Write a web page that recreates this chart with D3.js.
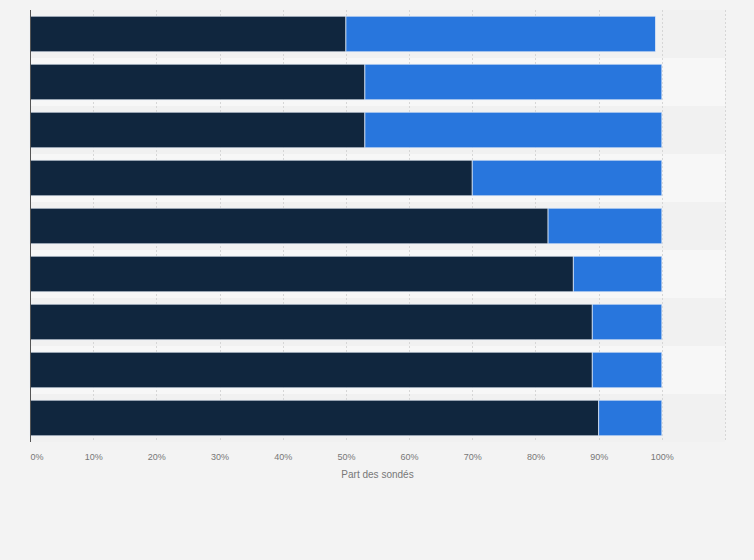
<!DOCTYPE html>
<html><head><meta charset="utf-8">
<script src="https://cdn.jsdelivr.net/npm/d3@7"></script>
<style>body{margin:0;background:#f3f3f3;}svg{display:block;}</style>
</head><body>
<script>
const categories = ["1","2","3","4","5","6","7","8","9"];
const seriesA = [50,53,53,70,82,86,89,89,90];
const seriesB = [49,47,47,30,18,14,11,11,10];
const tickValues = [0,10,20,30,40,50,60,70,80,90,100];
const tickLabels = ["0%","10%","20%","30%","40%","50%","60%","70%","80%","90%","100%"];
const axisTitle = "Part des sondés";

const W = 754, H = 560;
const svg = d3.select("body").append("svg").attr("width", W).attr("height", H);
svg.append("rect").attr("width", W).attr("height", H).attr("fill", "#f3f3f3");

const x = d3.scaleLinear().domain([0,110]).range([30,725]);
const y = d3.scaleBand().domain(categories).range([10,442]).paddingInner(0.26).paddingOuter(0.13);

// row bands
const stepY = y.step();
svg.append("g").selectAll("rect").data(categories).join("rect")
  .attr("x", x(0)).attr("width", x(110)-x(0))
  .attr("y", (d,i)=>10 + i*stepY).attr("height", stepY)
  .attr("fill", (d,i)=> i%2 ? "#f7f7f7" : "#f1f1f1");

// gridlines
svg.append("g").selectAll("line").data(d3.range(10,111,10)).join("line")
  .attr("x1", d=>Math.round(x(d))+0.5).attr("x2", d=>Math.round(x(d))+0.5)
  .attr("y1", 10).attr("y2", 442)
  .attr("stroke", "#d6d6d6").attr("stroke-dasharray", "2,2");

const data = categories.map((c,i)=>({c, a: seriesA[i], b: seriesB[i]}));
const stack = d3.stack().keys(["a","b"])(data);
const colors = {a:"#10263e", b:"#2876dd"};
svg.append("g").selectAll("g").data(stack).join("g")
  .attr("fill", d=>colors[d.key])
  .selectAll("rect").data(d=>d).join("rect")
  .attr("x", d=>x(d[0])).attr("width", d=>x(d[1])-x(d[0]))
  .attr("y", d=>y(d.data.c)).attr("height", y.bandwidth())
  .attr("stroke", "#e8eef6").attr("stroke-opacity", 0.7).attr("stroke-width", 1);

// left axis line
svg.append("line").attr("x1", 30.5).attr("x2", 30.5).attr("y1", 10).attr("y2", 442)
  .attr("stroke", "#555").attr("stroke-width", 1);

// x axis labels
const xAxis = d3.axisBottom(x).tickValues(tickValues).tickFormat((d,i)=>tickLabels[i]).tickSize(0).tickPadding(0);
const gx = svg.append("g").attr("transform", "translate(0,455)").call(xAxis);
gx.select(".domain").remove();
gx.selectAll("text").attr("fill", "#777").attr("font-family", "Arial, 'Liberation Sans', sans-serif")
  .attr("font-size", 9).attr("dy", "0.6em");
gx.selectAll(".tick text").filter((d,i)=>i===0).attr("text-anchor","start").attr("dx", 0);

svg.append("text").attr("x", x(55)).attr("y", 478).attr("text-anchor", "middle")
  .attr("fill", "#777").attr("font-family", "Arial, 'Liberation Sans', sans-serif")
  .attr("font-size", 10).text(axisTitle);
</script>
</body></html>
